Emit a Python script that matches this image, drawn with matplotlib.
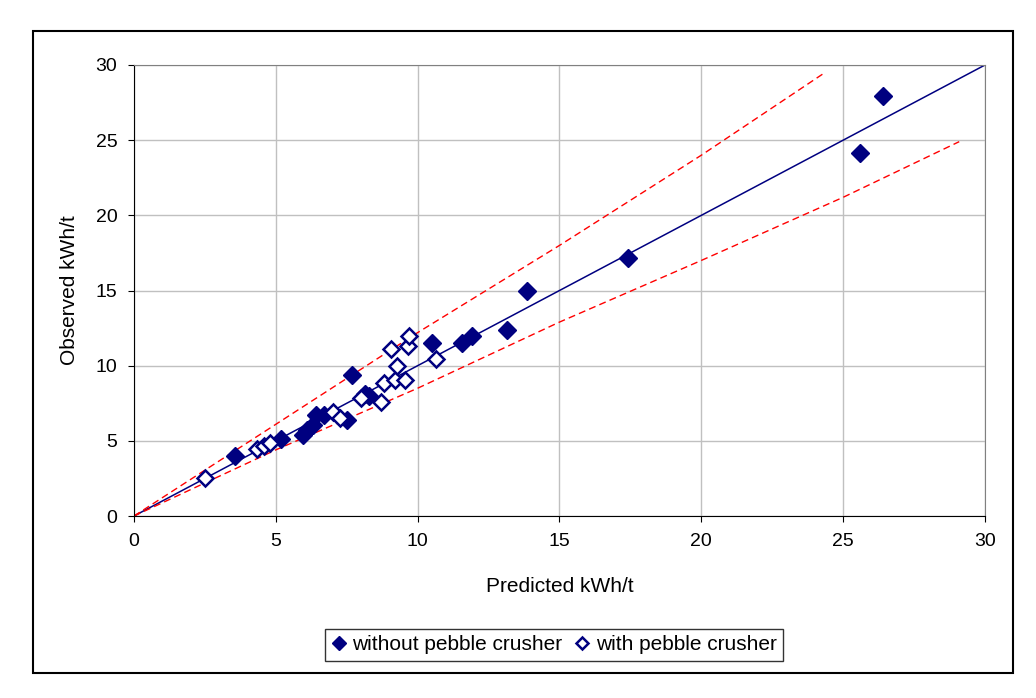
import matplotlib.pyplot as plt
from matplotlib.patches import Rectangle

plt.rcParams['font.family'] = ['Liberation Sans', 'DejaVu Sans']

# valores
pred_sin = [3.56, 5.17, 5.96, 6.1, 6.3, 6.4, 6.7, 7.5, 7.67, 8.14, 8.28,
            10.5, 11.55, 11.9, 13.15, 13.86, 17.4, 25.59, 26.39]
obs_sin = [4.0, 5.1, 5.4, 5.7, 6.05, 6.7, 6.75, 6.4, 9.35, 8.1, 7.98,
           11.5, 11.5, 12.0, 12.4, 14.97, 17.15, 24.17, 27.96]

pred_con = [2.5, 4.35, 4.6, 4.8, 7.0, 7.25, 8.02, 8.7, 8.8, 9.05, 9.2, 9.27,
            9.55, 9.65, 9.7, 10.65]
obs_con = [2.5, 4.45, 4.65, 4.85, 6.9, 6.5, 7.85, 7.6, 8.85, 11.1, 9.05, 9.98,
           9.05, 11.3, 12.0, 10.45]

linea_x = [0, 30]
linea_y = [0, 30]

sup_x = [0, 5, 10, 15, 20, 24.36]
sup_y = [0, 6.1, 12.2, 18.0, 24.0, 29.5]
inf_x = [0, 5, 10, 15, 20, 25, 29.09]
inf_y = [0, 4.4, 8.5, 12.9, 17.0, 21.2, 24.9]

fig = plt.figure(figsize=(10.36, 6.98), dpi=100)
ax = fig.add_axes([0.1293, 0.2607, 0.8215, 0.6462])

ax.plot(linea_x, linea_y, color='#000080', lw=1.1, zorder=2)
ax.plot(sup_x, sup_y, color='#ff0000', lw=1, ls=(0, (5, 3)), zorder=2)
ax.plot(inf_x, inf_y, color='#ff0000', lw=1, ls=(0, (5, 3)), zorder=2)

ax.plot(pred_sin, obs_sin, 'D', color='#000080', ms=9.5, ls='none',
        label='without pebble crusher', zorder=3)
ax.plot(pred_con, obs_con, 'D', mfc='white', mec='#000080', mew=1.8, ms=8.3,
        ls='none', label='with pebble crusher', zorder=3)

ax.set_xlim(0, 30)
ax.set_ylim(0, 30)
ax.set_xticks(range(0, 31, 5))
ax.set_yticks(range(0, 31, 5))
ax.grid(True, color='#c0c0c0', lw=1)
ax.set_axisbelow(True)
ax.tick_params(labelsize=14, direction='out', length=4, color='black', pad=8)
ax.spines['top'].set_color('#808080')
ax.spines['right'].set_color('#808080')
ax.set_xlabel('Predicted kWh/t', fontsize=15, labelpad=20)
ax.set_ylabel('Observed kWh/t', fontsize=15, labelpad=12)

leg = fig.legend(loc='center', bbox_to_anchor=(0.535, 0.076), ncol=2,
                 fontsize=15, frameon=True, fancybox=False, edgecolor='black',
                 handlelength=0.7, handletextpad=0.3, columnspacing=0.6,
                 borderpad=0.3, markerscale=0.72)
leg.get_frame().set_linewidth(1)

# marco exterior
fig.patches.append(Rectangle((33 / 1036, 1 - 673 / 698), 980 / 1036, 642 / 698,
                             transform=fig.transFigure, fill=False,
                             edgecolor='black', lw=1.5))

fig.savefig('out.png', dpi=100)
